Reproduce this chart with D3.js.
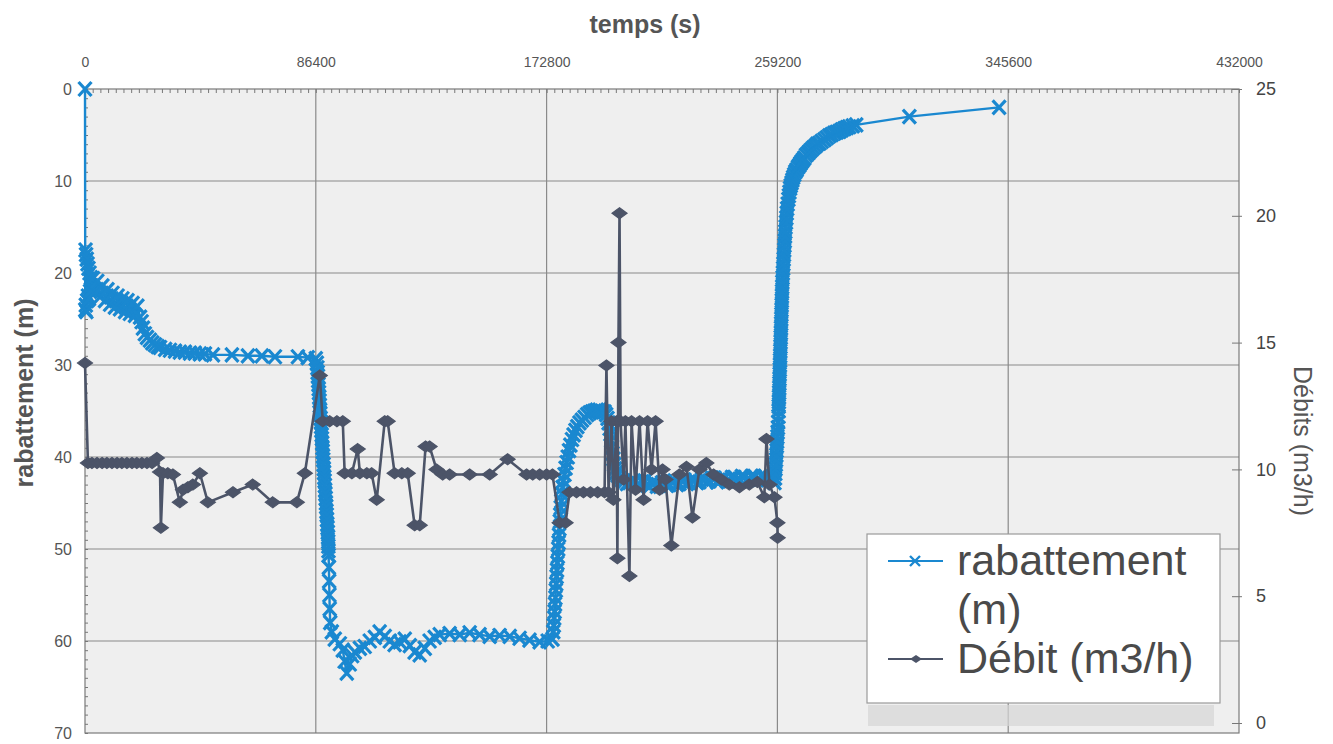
<!DOCTYPE html>
<html>
<head>
<meta charset="utf-8">
<script src="https://cdn.jsdelivr.net/npm/d3@7"></script>
<style>
  html, body { margin: 0; padding: 0; background: #ffffff; }
  svg { display: block; font-family: "Liberation Sans", Arial, sans-serif; }
</style>
</head>
<body>
<svg id="chart" width="1333" height="744"></svg>
<script>
// Axis ticks
const timeTicks = [0, 86400, 172800, 259200, 345600, 432000];
const rabTicks = [0, 10, 20, 30, 40, 50, 60, 70];
const debTicks = [0, 5, 10, 15, 20, 25];

// Drawdown (m) against time (s)
const rabattement = [
  [0,0],[100,24.0],[200,17.5],[300,23.5],[400,18.0],[500,24.2],[650,18.5],[800,23.0],[950,19.0],[1100,22.5],
  [1300,19.5],[1500,22.8],[1700,20.0],[1900,22.0],[2200,20.5],[2600,21.8],[3000,20.6],[3700,22.0],[4600,20.9],[5600,22.6],
  [6500,21.4],[7500,23.0],[8400,21.8],[9400,23.4],[10300,22.2],[11200,23.7],[12200,22.5],[13100,23.9],[14000,22.8],[15000,24.2],
  [15900,23.0],[16800,24.4],[17800,23.3],[18700,24.6],[19600,23.6],[20600,24.8],[21200,25.3],[21700,26.0],[22400,26.6],[23200,27.0],
  [24300,27.3],[25200,27.6],[26200,27.8],[27200,28.0],[28100,28.1],[30000,28.3],[31800,28.4],[33700,28.5],[35500,28.6],[37400,28.6],
  [39300,28.7],[41100,28.7],[43000,28.8],[44900,28.8],[47900,28.9],[55000,28.9],[61000,29.0],[66200,29.0],[71100,29.1],[79700,29.1],
  [83400,29.2],[86400,29.3],
  [86800,29.8],[87000,30.3],[87100,30.8],[87200,31.2],[87300,31.7],[87400,32.1],[87500,32.6],[87600,33.0],[87700,33.5],[87800,33.9],
  [87900,34.4],[88000,34.9],[88100,35.3],[88200,35.8],[88300,36.2],[88400,36.7],[88500,37.1],[88600,37.6],[88700,38.0],[88800,38.5],
  [88900,39.0],[89000,39.4],[89100,39.9],[89200,40.3],[89300,40.8],[89400,41.3],[89500,41.7],[89600,42.2],[89700,42.6],[89800,43.1],
  [89900,43.6],[90000,44.0],[90100,44.5],[90200,45.0],[90300,45.4],[90400,45.9],[90500,46.3],[90600,46.8],[90700,47.3],[90800,47.7],
  [90900,48.2],[91000,48.7],[91050,49.2],[91100,49.7],[91150,50.2],[91200,50.7],[91300,52.0],[91400,53.5],[91500,55.0],[91600,56.5],
  [91800,58.0],[92400,59.0],[93500,59.8],[95400,60.3],[96500,61.0],
  [97200,62.2],[98000,63.5],[99100,62.5],[100000,61.6],[101000,61.2],[102900,60.8],[104700,60.6],[106600,60.0],[108500,59.6],[110300,59.0],
  [112200,59.5],[114100,60.0],[115900,60.4],[117800,60.1],[119700,59.8],[121600,60.5],[123400,61.2],[125300,61.5],[127200,60.8],[129000,60.0],
  [130900,59.6],[132800,59.3],[136500,59.2],[140300,59.3],[144000,59.1],[147700,59.3],[151500,59.5],[155200,59.4],[159000,59.5],[162700,59.7],
  [166400,59.9],[170200,60.1],[173200,60.0],[175000,59.8],
  [175300,59.0],[175500,58.3],[175650,57.5],[175800,56.8],[175950,56.0],[176100,55.3],[176250,54.5],[176400,53.8],[176550,53.0],[176700,52.3],
  [176850,51.5],[177000,50.8],[177150,50.0],[177300,49.3],[177450,48.5],[177600,47.8],[177750,47.0],[177900,46.3],[178100,45.5],[178300,44.8],
  [178550,44.0],[178800,43.3],[179100,42.6],[179500,41.9],[179900,41.2],[180300,40.6],[180700,40.0],[181200,39.3],[181700,38.7],[182300,38.1],
  [182900,37.6],[183600,37.1],[184300,36.7],[185100,36.3],[186000,36.0],[187000,35.7],[188000,35.4],[188900,35.2],[189800,35.1],[190700,35.0],
  [191600,34.9],[192600,34.9],[193500,35.0],[194500,35.1],[195100,35.4],[195600,35.8],[196000,36.3],[196400,36.9],[196700,37.5],[197000,38.2],
  [197250,38.9],[197500,39.6],[197800,40.2],[198100,40.8],[198400,41.3],[198800,41.7],[199400,42.0],[200100,42.3],[201000,42.5],[202000,42.6],
  [202900,42.9],[203800,42.8],[204700,42.6],[205700,42.7],[206600,43.1],[207600,43.0],[208500,42.7],[209500,42.6],[210400,43.0],[211300,43.2],
  [212200,42.9],[213200,42.8],[214100,43.2],[215100,43.1],[216000,42.8],[217000,42.7],[217900,43.1],[218800,43.0],[219700,42.7],[220700,42.6],
  [221600,43.0],[222500,42.9],[223500,42.6],[224400,42.5],[225300,42.9],[226300,42.8],[227200,42.5],[228200,42.5],[229100,42.8],[230000,42.7],
  [231000,42.4],[231900,42.4],[232800,42.7],[233800,42.6],[234700,42.3],[235700,42.3],[236600,42.7],[237500,42.6],[238500,42.3],[239400,42.3],
  [240300,42.6],[241200,42.5],[242200,42.2],[243100,42.2],[244000,42.5],[245000,42.4],[245900,42.1],[246800,42.2],[247800,42.5],[248700,42.4],
  [249600,42.1],[250600,42.1],[251500,42.5],[252500,42.4],[253400,42.1],[254400,42.1],[255300,42.4],[256200,42.3],[257300,42.5],[258100,42.8],
  [258300,42.3],[258400,41.8],[258500,41.3],[258600,40.8],[258700,40.3],[258800,39.8],[258900,39.3],[259000,38.8],[259100,38.3],[259200,37.8],
  [259300,37.3],[259400,36.8],[259500,36.2],[259600,35.6],[259650,35.0],[259700,34.5],[259750,34.0],[259800,33.5],[259850,33.0],[259900,32.5],
  [259950,32.0],[260000,31.5],[260050,31.0],[260100,30.5],[260150,30.0],[260200,29.5],[260250,29.0],[260300,28.5],[260350,28.0],[260400,27.5],
  [260450,27.0],[260500,26.5],[260550,26.0],[260600,25.5],[260650,25.0],[260700,24.5],[260750,24.0],[260800,23.5],[260850,23.0],[260900,22.5],
  [260950,22.0],[261000,21.5],[261050,21.0],[261150,20.5],[261250,20.0],[261350,19.5],[261450,19.0],[261550,18.5],[261650,18.0],[261750,17.5],
  [261850,17.0],[261950,16.5],[262050,16.0],[262150,15.5],[262250,15.0],[262400,14.5],[262550,14.0],[262700,13.5],[262850,13.0],[263050,12.5],
  [263300,12.0],[263500,11.6],[263700,11.2],[263950,10.8],[264200,10.5],[264500,10.2],[264800,9.9],[265100,9.6],[265500,9.3],[265900,9.0],
  [266400,8.8],[266900,8.5],[267400,8.3],[267800,8.1],[268300,7.9],[268800,7.7],[269300,7.5],[269900,7.2],[270600,7.0],[271200,6.8],
  [271900,6.6],[272600,6.4],[273400,6.2],[274100,6.0],[274900,5.9],[275800,5.7],[276800,5.5],[277700,5.3],[278600,5.1],[279500,4.95],
  [280500,4.8],[281400,4.7],[282400,4.6],[283300,4.45],[284300,4.3],[285200,4.2],[286100,4.1],[287400,4.0],[288700,3.9],
  [308600,3.0],[342200,2.0]
];

// Pumping rate (m3/h) against time (s)
const debit = [
  [0,14.2],[1100,10.25],[2600,10.25],[4500,10.25],[6400,10.25],[8200,10.25],[10100,10.25],[12000,10.25],[13800,10.25],[15700,10.25],
  [17600,10.25],[19400,10.25],[21300,10.25],[23200,10.25],[25100,10.25],[26900,10.45],[28100,9.9],[28400,7.7],[29200,9.85],[31000,9.85],
  [32900,9.8],[35500,8.7],[36700,9.2],[38500,9.3],[40400,9.4],[43000,9.85],[46000,8.7],[55400,9.1],[62800,9.4],[70300,8.7],
  [79300,8.7],[82300,9.85],[87900,13.7],[89000,11.9],[91600,11.9],[94300,11.9],[96500,11.9],[97200,9.85],[99900,9.85],[102100,10.8],
  [102900,9.85],[105500,9.85],[107300,9.85],[109200,8.8],[112200,11.9],[113300,11.9],[115900,9.85],[118600,9.85],[120800,9.85],[123400,7.8],
  [125300,7.8],[127500,10.9],[129000,10.9],[131600,10.0],[133900,9.8],[136500,9.8],[144000,9.8],[151500,9.8],[158200,10.4],[165300,9.8],
  [167600,9.8],[170200,9.8],[172800,9.8],[175000,9.8],[177700,7.9],[179900,7.9],[181400,9.1],[184000,9.1],[186600,9.1],[189200,9.1],
  [191900,9.1],[194500,9.1],[195200,14.1],[196000,9.1],[197100,11.9],[197800,8.8],[199000,11.9],[199300,6.5],[199700,15.0],[200100,20.1],
  [200500,11.9],[201600,9.6],[202300,11.9],[203800,5.8],[204600,11.9],[206100,9.2],[207600,11.9],[209100,8.8],[210600,11.9],[212100,10.0],
  [213600,11.9],[215100,9.2],[216200,10.0],[217300,9.6],[219500,7.0],[222500,9.8],[225200,10.1],[227400,8.1],[230000,10.0],[232600,10.25],
  [235300,9.8],[238200,9.6],[241200,9.4],[245000,9.3],[248700,9.4],[251700,9.5],[254300,8.9],[255100,11.2],[256200,9.4],[258100,8.9],
  [259200,7.9],[259300,7.3]
];

const BLUE = "#1a88d0";
const DARK = "#4c5468";
const TXT = "#555555";

const svg = d3.select("#chart");
const plotLeft = 85, plotRight = 1239, plotTop = 89, plotBottom = 733;

const x = d3.scaleLinear().domain([0, 432000]).range([plotLeft, plotRight]);
const yL = d3.scaleLinear().domain([0, 70]).range([plotTop, plotBottom]);
const yR = d3.scaleLinear().domain([0, 25]).range([723, plotTop]);

// plot area
svg.append("rect")
  .attr("x", plotLeft).attr("y", plotTop)
  .attr("width", plotRight - plotLeft).attr("height", plotBottom - plotTop)
  .attr("fill", "#efefef");

// grid
const grid = svg.append("g").attr("stroke", "#8a8a8a").attr("stroke-width", 1.2);
grid.selectAll("line.h").data(rabTicks.slice(1, -1)).join("line")
  .attr("x1", plotLeft).attr("x2", plotRight)
  .attr("y1", d => yL(d)).attr("y2", d => yL(d));
grid.selectAll("line.v").data(timeTicks.slice(1, -1)).join("line")
  .attr("x1", d => x(d)).attr("x2", d => x(d))
  .attr("y1", plotTop).attr("y2", plotBottom);

// frame
svg.append("rect")
  .attr("x", plotLeft).attr("y", plotTop)
  .attr("width", plotRight - plotLeft).attr("height", plotBottom - plotTop)
  .attr("fill", "none").attr("stroke", "#7a7a7a").attr("stroke-width", 1.2);

// top time axis
const topAxis = svg.append("g").attr("transform", `translate(0,${plotTop})`)
  .call(d3.axisTop(x).tickValues(timeTicks).tickSize(0).tickPadding(22).tickFormat(d3.format("d")));
topAxis.select(".domain").remove();
topAxis.selectAll("text").attr("fill", TXT).attr("font-size", 14);

svg.append("g").attr("transform", `translate(0,${plotTop})`)
  .call(d3.axisTop(x).tickValues(d3.range(0, 432001, 2880)).tickSize(-4).tickFormat(""))
  .call(g => g.select(".domain").remove())
  .selectAll("line").attr("stroke", "#777");

// left drawdown axis
const leftAxis = svg.append("g").attr("transform", `translate(${plotLeft},0)`)
  .call(d3.axisLeft(yL).tickValues(rabTicks).tickSize(0).tickPadding(13));
leftAxis.select(".domain").remove();
leftAxis.selectAll("text").attr("fill", TXT).attr("font-size", 16);

svg.append("g").attr("transform", `translate(${plotLeft},0)`)
  .call(d3.axisLeft(yL).tickValues(d3.range(0, 71, 1)).tickSize(-3).tickFormat(""))
  .call(g => g.select(".domain").remove())
  .selectAll("line").attr("stroke", "#777");

// right rate axis
const rightAxis = svg.append("g").attr("transform", `translate(${plotRight},0)`)
  .call(d3.axisRight(yR).tickValues(debTicks).tickSize(3).tickPadding(14));
rightAxis.select(".domain").remove();
rightAxis.selectAll("line").attr("x1", -7).attr("stroke", "#777");
rightAxis.selectAll("text").attr("fill", "#444").attr("font-size", 18);

// axis titles
svg.append("text")
  .attr("x", 645).attr("y", 33)
  .attr("text-anchor", "middle")
  .attr("font-weight", "bold").attr("font-size", 25)
  .attr("fill", TXT)
  .text("temps (s)");

svg.append("text")
  .attr("transform", "translate(33,393) rotate(-90)")
  .attr("text-anchor", "middle")
  .attr("font-weight", "bold").attr("font-size", 25)
  .attr("fill", TXT)
  .text("rabattement (m)");

svg.append("text")
  .attr("transform", "translate(1294,441) rotate(90)")
  .attr("text-anchor", "middle")
  .attr("font-size", 25)
  .attr("fill", TXT)
  .text("Débits (m3/h)");

// marker shapes
const crossPath = "M-6.5,-7L6.5,7M-6.5,7L6.5,-7";
const diamondPath = "M0,-5.5L7.5,0L0,5.5L-7.5,0Z";

// drawdown series
const lineL = d3.line().x(d => x(d[0])).y(d => yL(d[1]));
svg.append("path").datum(rabattement)
  .attr("d", lineL)
  .attr("fill", "none").attr("stroke", BLUE).attr("stroke-width", 2.4);
svg.append("g").selectAll("path").data(rabattement).join("path")
  .attr("transform", d => `translate(${x(d[0])},${yL(d[1])})`)
  .attr("d", crossPath)
  .attr("fill", "none").attr("stroke", BLUE).attr("stroke-width", 3.2);

// pumping rate series
const lineR = d3.line().x(d => x(d[0])).y(d => yR(d[1]));
svg.append("path").datum(debit)
  .attr("d", lineR)
  .attr("fill", "none").attr("stroke", DARK).attr("stroke-width", 2.6);
svg.append("g").selectAll("path").data(debit).join("path")
  .attr("transform", d => `translate(${x(d[0])},${yR(d[1])})`)
  .attr("d", diamondPath)
  .attr("fill", DARK).attr("stroke", DARK).attr("stroke-width", 1.2);

// shaded strip under the legend box
svg.append("rect")
  .attr("x", 868).attr("y", 705).attr("width", 346).attr("height", 21)
  .attr("fill", "#d6d6d6").attr("opacity", 0.7);

// legend
const lg = svg.append("g");
lg.append("rect")
  .attr("x", 867).attr("y", 534).attr("width", 353).attr("height", 169)
  .attr("fill", "#ffffff").attr("stroke", "#9a9a9a").attr("stroke-width", 1.2);

lg.append("line").attr("x1", 888).attr("x2", 943).attr("y1", 561).attr("y2", 561)
  .attr("stroke", BLUE).attr("stroke-width", 2);
lg.append("path").attr("transform", "translate(915,561)").attr("d", "M-5,-5L5,5M-5,5L5,-5")
  .attr("stroke", BLUE).attr("stroke-width", 2.4).attr("fill", "none");
lg.append("text").attr("x", 957).attr("y", 575)
  .attr("font-size", 43).attr("fill", "#4a4a4a").text("rabattement");
lg.append("text").attr("x", 957).attr("y", 624)
  .attr("font-size", 43).attr("fill", "#4a4a4a").text("(m)");

lg.append("line").attr("x1", 888).attr("x2", 943).attr("y1", 659).attr("y2", 659)
  .attr("stroke", DARK).attr("stroke-width", 2);
lg.append("path").attr("transform", "translate(916,659)").attr("d", "M0,-4L6,0L0,4L-6,0Z")
  .attr("fill", DARK);
lg.append("text").attr("x", 957).attr("y", 673)
  .attr("font-size", 43).attr("fill", "#4a4a4a").text("Débit (m3/h)");
</script>
</body>
</html>
